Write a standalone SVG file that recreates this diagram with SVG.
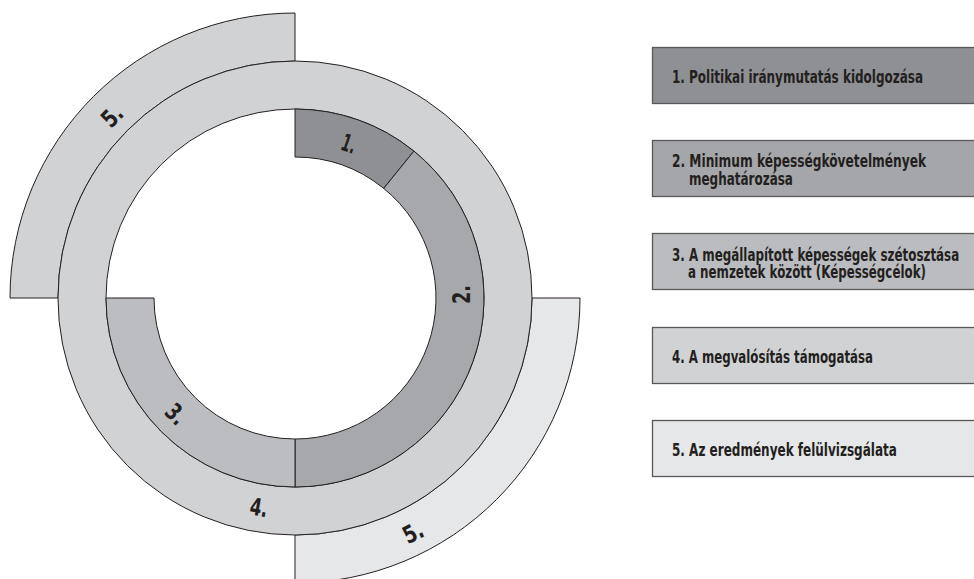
<svg xmlns="http://www.w3.org/2000/svg" width="974" height="579" viewBox="0 0 974 579">
<style>
.ol{stroke:#231f20;stroke-width:1}
.box{stroke:#58585a;stroke-width:1.3}
.lg{font-family:"DejaVu Sans Condensed","Liberation Sans Narrow","DejaVu Sans",sans-serif;font-weight:bold;font-size:17.5px;fill:#231f20}
.rl{font-family:"DejaVu Sans Condensed","Liberation Sans Narrow","DejaVu Sans",sans-serif;font-weight:bold;font-size:24px;fill:#231f20;text-anchor:middle}
</style>
<rect width="974" height="579" fill="#ffffff"/>
<g id="ring5-top">
<path class="ol" fill="#d1d2d4" d="M10,298 A285,285 0 0 1 295,13 L295,61 A237,237 0 0 0 58,298 Z"/>
<text class="rl" textLength="20" lengthAdjust="spacingAndGlyphs" transform="translate(112,116) rotate(-45)" x="0" y="8.5">5.</text>
</g>
<g id="ring5-bottom">
<path class="ol" fill="#e6e7e8" d="M580,298 A285,285 0 0 1 295,583 L295,535 A237,237 0 0 0 532,298 Z"/>
<text class="rl" textLength="20" lengthAdjust="spacingAndGlyphs" transform="translate(413,532.5) rotate(-27)" x="0" y="8.5">5.</text>
</g>
<g id="ring4">
<path class="ol" fill="#d1d2d4" fill-rule="evenodd" d="M58,298 A237,237 0 1 0 532,298 A237,237 0 1 0 58,298 Z M106,298 A189,189 0 1 0 484,298 A189,189 0 1 0 106,298 Z"/>
<text class="rl" textLength="18" lengthAdjust="spacingAndGlyphs" transform="translate(259,507.5) rotate(10)" x="0" y="8.5">4.</text>
</g>
<g id="ring1">
<path class="ol" fill="#8f9093" d="M295,109 A189,189 0 0 1 413.9,151.1 L383.7,188.4 A141,141 0 0 0 295,157 Z"/>
<text class="rl" textLength="14" lengthAdjust="spacingAndGlyphs" transform="translate(349,143.5) rotate(19)" x="0" y="8.5">1.</text>
</g>
<g id="ring2">
<path class="ol" fill="#a7a8ab" d="M413.9,151.1 A189,189 0 0 1 295,487 L295,439 A141,141 0 0 0 383.7,188.4 Z"/>
<text class="rl" textLength="19" lengthAdjust="spacingAndGlyphs" transform="translate(461.5,294.5) rotate(-90)" x="0" y="8.5">2.</text>
</g>
<g id="ring3">
<path class="ol" fill="#bcbdc0" d="M295,487 A189,189 0 0 1 106,298 L154,298 A141,141 0 0 0 295,439 Z"/>
<text class="rl" textLength="19" lengthAdjust="spacingAndGlyphs" transform="translate(176,414) rotate(45)" x="0" y="8.5">3.</text>
</g>
<g id="legend1">
<rect class="box" x="652.5" y="47.5" width="325" height="56" fill="#8f9093"/>
<text class="lg" transform="translate(672,83) scale(0.77,1)" x="0" y="0" textLength="326" lengthAdjust="spacingAndGlyphs">1. Politikai iránymutatás kidolgozása</text>
</g>
<g id="legend2">
<rect class="box" x="652.5" y="140.5" width="325" height="56" fill="#a5a6a9"/>
<text class="lg" transform="translate(672,167) scale(0.77,1)" x="0" y="0" textLength="330" lengthAdjust="spacingAndGlyphs">2. Minimum képességkövetelmények</text>
<text class="lg" transform="translate(689,184.5) scale(0.77,1)" x="0" y="0" textLength="135" lengthAdjust="spacingAndGlyphs">meghatározása</text>
</g>
<g id="legend3">
<rect class="box" x="652.5" y="233.5" width="325" height="56" fill="#bbbcbf"/>
<text class="lg" transform="translate(672,260.5) scale(0.77,1)" x="0" y="0" textLength="373" lengthAdjust="spacingAndGlyphs">3. A megállapított képességek szétosztása</text>
<text class="lg" transform="translate(688,278) scale(0.77,1)" x="0" y="0" textLength="309" lengthAdjust="spacingAndGlyphs">a nemzetek között (Képességcélok)</text>
</g>
<g id="legend4">
<rect class="box" x="652.5" y="327.5" width="325" height="56" fill="#d1d2d4"/>
<text class="lg" transform="translate(672,363) scale(0.77,1)" x="0" y="0" textLength="261" lengthAdjust="spacingAndGlyphs">4. A megvalósítás támogatása</text>
</g>
<g id="legend5">
<rect class="box" x="652.5" y="420.5" width="325" height="56" fill="#e6e7e8"/>
<text class="lg" transform="translate(672,456) scale(0.77,1)" x="0" y="0" textLength="292" lengthAdjust="spacingAndGlyphs">5. Az eredmények felülvizsgálata</text>
</g>
<g id="connectors"/>
</svg>
